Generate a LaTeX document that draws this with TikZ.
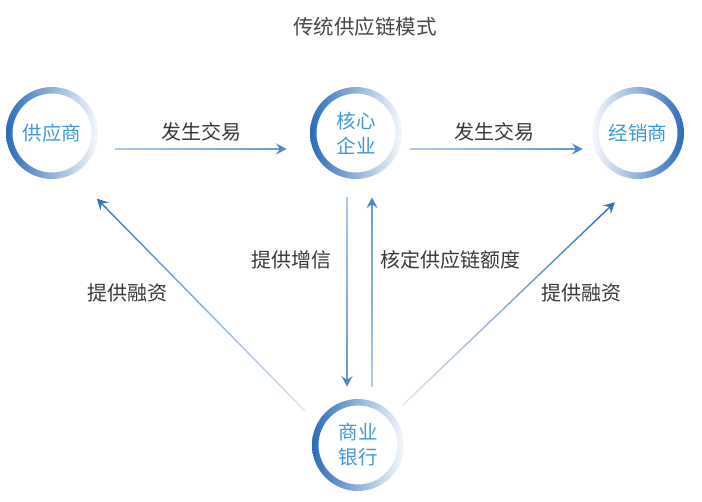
\documentclass[tikz,border=0pt]{standalone}
\usepackage{fontspec}
\setmainfont{Noto Sans CJK SC}
\usepackage{tikz}
\usetikzlibrary{arrows.meta,fadings}

\definecolor{ringblue}{HTML}{2B6CB8}
\definecolor{textblue}{HTML}{3F97DD}
\definecolor{arrowblue}{HTML}{3474BE}

\begin{tikzfadingfrompicture}[name=fadeeast]
  \shade[left color=transparent!85, right color=transparent!0] (-50bp,-2500bp) rectangle (50bp,2500bp);
\end{tikzfadingfrompicture}
\begin{tikzfadingfrompicture}[name=fadenorth]
  \shade[top color=transparent!0, bottom color=transparent!85] (-2500bp,-50bp) rectangle (2500bp,50bp);
\end{tikzfadingfrompicture}
\begin{tikzfadingfrompicture}[name=fadesouth]
  \shade[top color=transparent!85, bottom color=transparent!0] (-2500bp,-50bp) rectangle (2500bp,50bp);
\end{tikzfadingfrompicture}
\tikzfading[name=fadenw, top color=transparent!0, bottom color=transparent!85, shading angle=45]
\tikzfading[name=fadene, top color=transparent!0, bottom color=transparent!85, shading angle=-46]

\begin{document}
\begin{tikzpicture}[x=1pt,y=-1pt,
  ringbase/.style={circle,minimum size=92pt,inner sep=0pt,align=center,text=textblue,
    font=\fontsize{19.5}{25}\selectfont},
  ringl/.style={ringbase,path picture={\shade[even odd rule,left color=ringblue,right color=ringblue!4]
    (path picture bounding box.center) circle (46) (path picture bounding box.center) circle (39.5);}},
  ringr/.style={ringbase,path picture={\shade[even odd rule,left color=ringblue!4,right color=ringblue]
    (path picture bounding box.center) circle (46) (path picture bounding box.center) circle (39.5);}},
  flow/.style={arrowblue,line width=1.4pt,-{Stealth[length=11pt,width=11.5pt,inset=4pt]}},
  lbl/.style={text=black!78,font=\fontsize{20}{24}\selectfont}]

\useasboundingbox (0,0) rectangle (702,502);

\node[lbl,text=black!72,font=\fontsize{20.5}{24}\selectfont] (title) at (365,27) {传统供应链模式};

\node[ringl] (supplier) at (52,133) {供应商};
\node[ringl] (core) at (356,133) {核心\\企业};
\node[ringr] (dealer) at (638,133) {经销商};
\node[ringl] (bank) at (358,445) {商业\\银行};

\draw[flow,path fading=fadeeast,shorten <=17pt,shorten >=23pt] ([yshift=-16pt]supplier.east) -- ([yshift=-16pt]core.west);
\node[lbl] (trade1) at (201,132) {发生交易};

\draw[flow,path fading=fadeeast,shorten <=8pt,shorten >=9pt] ([yshift=-16pt]core.east) -- ([yshift=-16pt]dealer.west);
\node[lbl] (trade2) at (494,132) {发生交易};

\draw[flow,path fading=fadesouth,shorten <=18pt,shorten >=12pt] ([xshift=-9pt]core.south) -- ([xshift=-11pt]bank.north);
\node[lbl] (credit) at (291,260) {提供增信};

\draw[flow,path fading=fadenorth,shorten <=12pt,shorten >=18pt] ([xshift=14pt]bank.north) -- ([xshift=16pt]core.south);
\node[lbl] (quota) at (450,260) {核定供应链额度};

\draw[flow,path fading=fadenw,shorten <=76pt,shorten >=64pt] ([yshift=-20pt]bank.center) -- ([yshift=-20pt]supplier.center);
\node[lbl] (loan1) at (127,293) {提供融资};

\draw[flow,path fading=fadene,shorten <=62pt,shorten >=32pt] ([yshift=-3pt]bank.center) -- ([yshift=-47pt]dealer.center);
\node[lbl] (loan2) at (581,293) {提供融资};

\end{tikzpicture}
\end{document}
